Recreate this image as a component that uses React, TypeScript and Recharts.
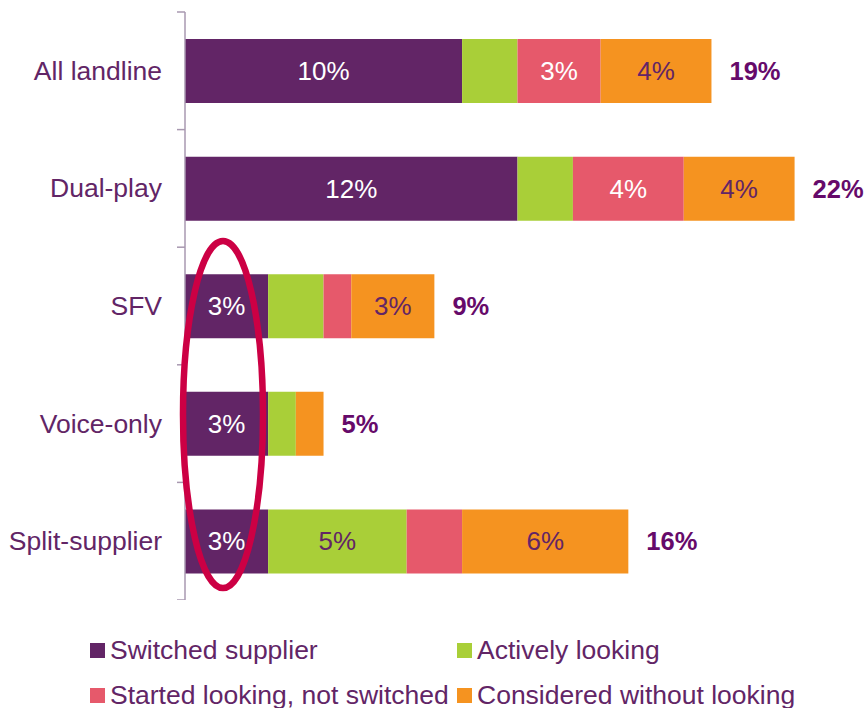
import { BarChart, Bar, XAxis, YAxis, LabelList } from 'recharts'

const categories = ['All landline', 'Dual-play', 'SFV', 'Voice-only', 'Split-supplier']
const switched = [10, 12, 3, 3, 3]
const activelyLooking = [2, 2, 2, 1, 5]
const startedLooking = [3, 4, 1, 0, 2]
const considered = [4, 4, 3, 1, 6]
const totals = [19, 22, 9, 5, 16]

const SERIES = [
  { key: 'switched', name: 'Switched supplier', color: '#622566', labelColor: '#ffffff' },
  { key: 'active', name: 'Actively looking', color: '#a9cf38', labelColor: '#622566' },
  { key: 'started', name: 'Started looking, not switched', color: '#e6596b', labelColor: '#ffffff' },
  { key: 'considered', name: 'Considered without looking', color: '#f59320', labelColor: '#622566' },
]

const data = categories.map((name, i) => ({
  name,
  switched: switched[i],
  active: activelyLooking[i],
  started: startedLooking[i],
  considered: considered[i],
  total: totals[i],
}))

const FONT = '"Liberation Sans", Arial, sans-serif'
const PURPLE = '#622566'
const AXIS = '#a898b0'
const PLOT_TOP = 12
const PLOT_HEIGHT = 588
const BAND = PLOT_HEIGHT / categories.length

function CategoryTick(props: any) {
  const { x, y, payload, index } = props
  const axisX = x + 23
  return (
    <g>
      <line x1={axisX - 8} x2={axisX} y1={y - BAND / 2} y2={y - BAND / 2} stroke={AXIS} strokeWidth={1.5} />
      {index === categories.length - 1 && (
        <line x1={axisX - 8} x2={axisX} y1={y + BAND / 2} y2={y + BAND / 2} stroke={AXIS} strokeWidth={1.5} />
      )}
      <text x={x} y={y} textAnchor="end" dominantBaseline="central" fontSize={26.5} fontFamily={FONT} fill={PURPLE}>
        {payload.value}
      </text>
    </g>
  )
}

function segmentLabel(color: string) {
  return (props: any) => {
    const { x, y, width, height, value } = props
    if (!value || value < 3) return null
    return (
      <text
        x={x + width / 2}
        y={y + height / 2}
        textAnchor="middle"
        dominantBaseline="central"
        fontSize={26}
        fontFamily={FONT}
        fill={color}
      >
        {value}%
      </text>
    )
  }
}

function TotalLabel(props: any) {
  const { x, y, width, height, index } = props
  return (
    <text
      x={x + width + 18}
      y={y + height / 2}
      textAnchor="start"
      dominantBaseline="central"
      fontSize={25.5}
      fontWeight="bold"
      fontFamily={FONT}
      fill="#660a6a"
    >
      {totals[index]}%
    </text>
  )
}

// legend slots: [left, baseline]
const LEGEND_POS = [
  [90, 659],
  [457, 659],
  [90, 704],
  [457, 704],
]

export default function App() {
  return (
    <div style={{ position: 'absolute', left: 0, top: 0, width: 867, height: 708, background: '#fff', overflow: 'hidden' }}>
      <BarChart
        width={867}
        height={PLOT_TOP + PLOT_HEIGHT}
        data={data}
        layout="vertical"
        margin={{ top: PLOT_TOP, right: 17, bottom: 0, left: 0 }}
        barCategoryGap="23%"
      >
        <XAxis type="number" domain={[0, 24]} hide />
        <YAxis
          type="category"
          dataKey="name"
          width={185}
          axisLine={{ stroke: AXIS, strokeWidth: 1.5 }}
          tickLine={false}
          tickSize={0}
          tickMargin={23}
          tick={<CategoryTick />}
          interval={0}
        />
        {SERIES.map((s, i) => (
          <Bar key={s.key} dataKey={s.key} name={s.name} stackId="a" fill={s.color} isAnimationActive={false}>
            <LabelList dataKey={s.key} content={segmentLabel(s.labelColor)} />
            {i === SERIES.length - 1 && <LabelList dataKey="total" content={<TotalLabel />} />}
          </Bar>
        ))}
      </BarChart>
      <svg width={867} height={708} style={{ position: 'absolute', left: 0, top: 0, pointerEvents: 'none' }}>
        <ellipse cx={223} cy={414.5} rx={40} ry={173.5} fill="none" stroke="#cc0044" strokeWidth={6.5} />
        {SERIES.map((s, i) => (
          <g key={s.key}>
            <rect x={LEGEND_POS[i][0]} y={LEGEND_POS[i][1] - 16} width={15} height={15} fill={s.color} />
            <text x={LEGEND_POS[i][0] + 20} y={LEGEND_POS[i][1]} fontSize={26.5} fontFamily={FONT} fill={PURPLE}>
              {s.name}
            </text>
          </g>
        ))}
      </svg>
    </div>
  )
}
